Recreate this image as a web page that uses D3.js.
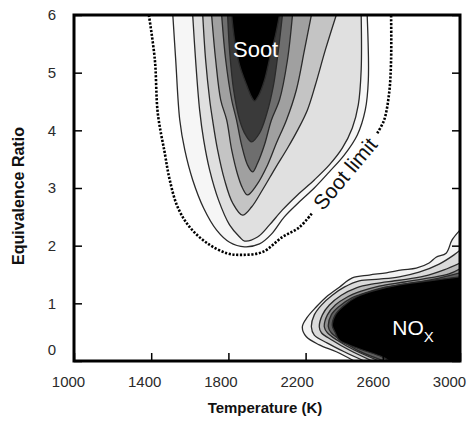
<!DOCTYPE html>
<html>
<head>
<meta charset="utf-8">
<script src="https://cdn.jsdelivr.net/npm/d3@7"></script>
<style>
  body { margin: 0; background: #fff; }
  svg { display: block; font-family: "Liberation Sans", Arial, sans-serif; }
</style>
</head>
<body>
<svg width="468" height="421"></svg>
<script>
var width = 468, height = 421;

var xTicks = [1000, 1400, 1800, 2200, 2600, 3000];
var yTicks = [0, 1, 2, 3, 4, 5, 6];

// soot contours, [temperature K, equivalence ratio], outer to inner
var sootA = [[1512,6],[1527,5.22],[1548,4.18],[1574,3.66],[1615,3.14],[1672,2.65],[1739,2.27],[1806,2.06],[1884,1.98],
  [1961,2.03],[2023,2.2],[2090,2.5],[2168,2.76],[2245,3.0],[2323,3.28],[2400,3.57],[2468,3.92],[2509,4.35],[2525,4.87],[2519,6]];
var sootB = [[1615,6],[1630,5.22],[1651,4.35],[1672,3.83],[1703,3.31],[1749,2.79],[1806,2.36],[1858,2.15],[1884,2.08],
  [1951,2.15],[2013,2.36],[2080,2.62],[2158,2.88],[2245,3.14],[2323,3.4],[2390,3.69],[2442,4.04],[2473,4.44],[2488,5.05],[2488,6]];
var sootC = [[1667,6],[1682,5.22],[1703,4.53],[1718,4.18],[1744,3.66],[1780,3.14],[1822,2.74],[1873,2.53],
  [1920,2.67],[1977,2.97],[2044,3.35],[2106,3.69],[2158,4.0],[2209,4.35],[2251,4.79],[2302,5.39],[2359,6]];
var sootD = [[1713,6],[1734,5.22],[1760,4.53],[1791,4.18],[1817,3.66],[1848,3.23],[1873,3.0],[1899,2.88],
  [1946,3.05],[2003,3.4],[2049,3.78],[2101,4.18],[2152,4.7],[2194,5.39],[2230,6]];
var sootE = [[1765,6],[1786,5.22],[1817,4.53],[1842,4.18],[1868,3.75],[1899,3.4],[1925,3.28],
  [1951,3.43],[1987,3.75],[2023,4.18],[2065,4.53],[2106,5.22],[2132,6]];
var sootF = [[1796,6],[1806,5.39],[1827,4.7],[1858,4.18],[1889,3.92],[1920,3.8],
  [1961,3.95],[1997,4.27],[2034,4.79],[2059,5.39],[2080,6]];
var sootCore = [[1817,6],[1832,5.57],[1858,5.13],[1894,4.79],[1920,4.58],[1935,4.51],
  [1956,4.6],[1987,4.87],[2018,5.31],[2044,5.65],[2065,6]];
var sootFills = ["#f6f6f6", "#e0e0e0", "#c4c4c4", "#a0a0a0", "#6e6e6e", "#3a3a3a", "#000"];

// soot limit, split where the label sits
var sootLimitLow = [[1388,6],[1419,5.22],[1434,4.3],[1470,3.61],[1496,3.14],[1537,2.67],[1600,2.32],[1687,2.05],
  [1791,1.87],[1873,1.84],[1977,1.89],[2080,2.15],[2168,2.32],[2235,2.57]];
var sootLimitHigh = [[2571,3.95],[2607,4.18],[2633,4.65],[2643,5.22],[2643,6]];

// NOx contours, from the bottom edge round to the right edge
var nox1 = [[2452,0],[2359,0.16],[2271,0.28],[2204,0.42],[2183,0.59],[2209,0.76],[2256,0.94],[2307,1.11],[2375,1.28],
  [2442,1.44],[2530,1.49],[2618,1.53],[2700,1.58],[2773,1.61],[2840,1.7],[2876,1.8],[2928,1.87],[2959,2.1],[3000,2.27]];
var nox2 = [[2504,0],[2400,0.16],[2313,0.31],[2245,0.45],[2230,0.59],[2245,0.8],[2282,0.97],[2338,1.14],[2400,1.28],
  [2478,1.39],[2581,1.42],[2685,1.46],[2788,1.54],[2892,1.68],[2969,1.84],[3000,1.92]];
var nox3 = [[2545,0],[2426,0.19],[2338,0.36],[2282,0.49],[2271,0.59],[2287,0.8],[2323,0.97],[2385,1.14],[2463,1.27],
  [2556,1.34],[2685,1.4],[2814,1.47],[2917,1.58],[3000,1.7]];
var nox4 = [[2581,0],[2452,0.19],[2364,0.36],[2313,0.49],[2297,0.59],[2313,0.8],[2354,0.97],[2416,1.11],[2488,1.21],
  [2581,1.3],[2711,1.37],[2840,1.44],[2943,1.51],[3000,1.6]];
var nox5 = [[2607,0],[2478,0.17],[2385,0.36],[2333,0.49],[2318,0.59],[2333,0.8],[2375,0.95],[2437,1.09],[2509,1.18],
  [2597,1.27],[2726,1.34],[2866,1.42],[3000,1.53]];
var noxCore = [[2633,0],[2597,0.07],[2463,0.23],[2375,0.36],[2354,0.49],[2338,0.62],[2354,0.8],[2395,0.95],[2463,1.11],
  [2566,1.23],[2685,1.32],[2840,1.39],[3000,1.46]];
var noxFills = ["#f2f2f2", "#dadada", "#b8b8b8", "#8e8e8e", "#5e5e5e", "#000"];

var svg = d3.select("svg")
  .attr("width", width)
  .attr("height", height);

var x = d3.scaleLinear().domain([1000, 3000]).range([74, 460]);
var y = d3.scaleLinear().domain([0, 6]).range([361, 15]);
// the printed x labels sit a little left of their ticks
var xLabel = x.copy().range([68, 449]);

svg.append("clipPath").attr("id", "plot")
  .append("rect")
  .attr("x", x(1000)).attr("y", y(6))
  .attr("width", x(3000) - x(1000)).attr("height", y(0) - y(6));

var line = d3.line()
  .x(function(d) { return x(d[0]); })
  .y(function(d) { return y(d[1]); })
  .curve(d3.curveCatmullRom.alpha(0.5));

var plot = svg.append("g").attr("clip-path", "url(#plot)");

// soot bands
var soot = [sootA, sootB, sootC, sootD, sootE, sootF, sootCore];
plot.selectAll(".soot")
  .data(soot)
  .enter()
  .append("path")
  .attr("class", "soot")
  .attr("d", function(d) { return line(d) + "Z"; })
  .attr("fill", function(d, i) { return sootFills[i]; })
  .attr("stroke", "#2a2a2a")
  .attr("stroke-width", 1.3);

// NOx bands, closed through the bottom-right corner
var nox = [nox1, nox2, nox3, nox4, nox5, noxCore];
plot.selectAll(".nox")
  .data(nox)
  .enter()
  .append("path")
  .attr("class", "nox")
  .attr("d", function(d) {
    return line(d) + "L" + x(x.domain()[1]) + "," + y(y.domain()[0]) + "Z";
  })
  .attr("fill", function(d, i) { return noxFills[i]; })
  .attr("stroke", "#2a2a2a")
  .attr("stroke-width", 1.3);

// soot limit
plot.selectAll(".limit")
  .data([sootLimitLow, sootLimitHigh])
  .enter()
  .append("path")
  .attr("class", "limit")
  .attr("d", line)
  .attr("fill", "none")
  .attr("stroke", "#000")
  .attr("stroke-width", 2.6)
  .attr("stroke-dasharray", "2.2,1.6");

// labels inside the plot
svg.append("text")
  .attr("x", x(1941)).attr("y", y(5.27))
  .attr("text-anchor", "middle")
  .attr("fill", "#fff")
  .attr("font-size", 22)
  .text("Soot");

var noxLabel = svg.append("text")
  .attr("x", x(2649)).attr("y", y(0.45))
  .attr("fill", "#fff")
  .attr("font-size", 21);
noxLabel.append("tspan").text("NO");
noxLabel.append("tspan").attr("font-size", 15).attr("dy", 7).text("X");

var mid = [x(2405), y(3.25)];
svg.append("text")
  .attr("transform", "translate(" + mid + ") rotate(-50)")
  .attr("text-anchor", "middle")
  .attr("dy", "0.35em")
  .attr("font-size", 21)
  .attr("fill", "#111")
  .text("Soot limit");

// frame and inward ticks
svg.append("rect")
  .attr("x", x(1000)).attr("y", y(6))
  .attr("width", x(3000) - x(1000)).attr("height", y(0) - y(6))
  .attr("fill", "none")
  .attr("stroke", "#000")
  .attr("stroke-width", 3);

var inner = [
  { axis: d3.axisRight(y).tickValues(yTicks), t: "translate(" + x(1000) + ",0)" },
  { axis: d3.axisLeft(y).tickValues(yTicks), t: "translate(" + x(3000) + ",0)" },
  { axis: d3.axisTop(x).tickValues(xTicks), t: "translate(0," + y(0) + ")" }
];
inner.forEach(function(a) {
  var g = svg.append("g")
    .attr("transform", a.t)
    .call(a.axis.tickSize(8).tickFormat(""));
  g.select(".domain").remove();
  g.selectAll("line").attr("stroke", "#000").attr("stroke-width", 1.5);
});

// tick labels
var yAxis = svg.append("g")
  .attr("transform", "translate(" + x(1000) + ",0)")
  .call(d3.axisLeft(y).tickValues(yTicks).tickSize(0).tickPadding(18).tickFormat(d3.format("d")));
yAxis.select(".domain").remove();
yAxis.selectAll("text")
  .attr("font-size", 15)
  .attr("fill", "#2a2a2a")
  .attr("font-family", "Liberation Sans, Arial, sans-serif")
  .filter(function(d) { return d == 0; })
  .attr("dy", "-0.45em");

var xAxis = svg.append("g")
  .attr("transform", "translate(0," + y(0) + ")")
  .call(d3.axisBottom(xLabel).tickValues(xTicks).tickSize(0).tickPadding(15).tickFormat(d3.format("d")));
xAxis.select(".domain").remove();
xAxis.selectAll("text")
  .attr("font-size", 15)
  .attr("fill", "#2a2a2a")
  .attr("font-family", "Liberation Sans, Arial, sans-serif");

// axis titles
svg.append("text")
  .attr("transform", "translate(24,196) rotate(-90)")
  .attr("text-anchor", "middle")
  .attr("font-weight", "bold")
  .attr("font-size", 16)
  .attr("fill", "#111")
  .text("Equivalence Ratio");

svg.append("text")
  .attr("x", 265).attr("y", 413)
  .attr("text-anchor", "middle")
  .attr("font-weight", "bold")
  .attr("font-size", 15)
  .attr("fill", "#111")
  .text("Temperature (K)");
</script>
</body>
</html>
